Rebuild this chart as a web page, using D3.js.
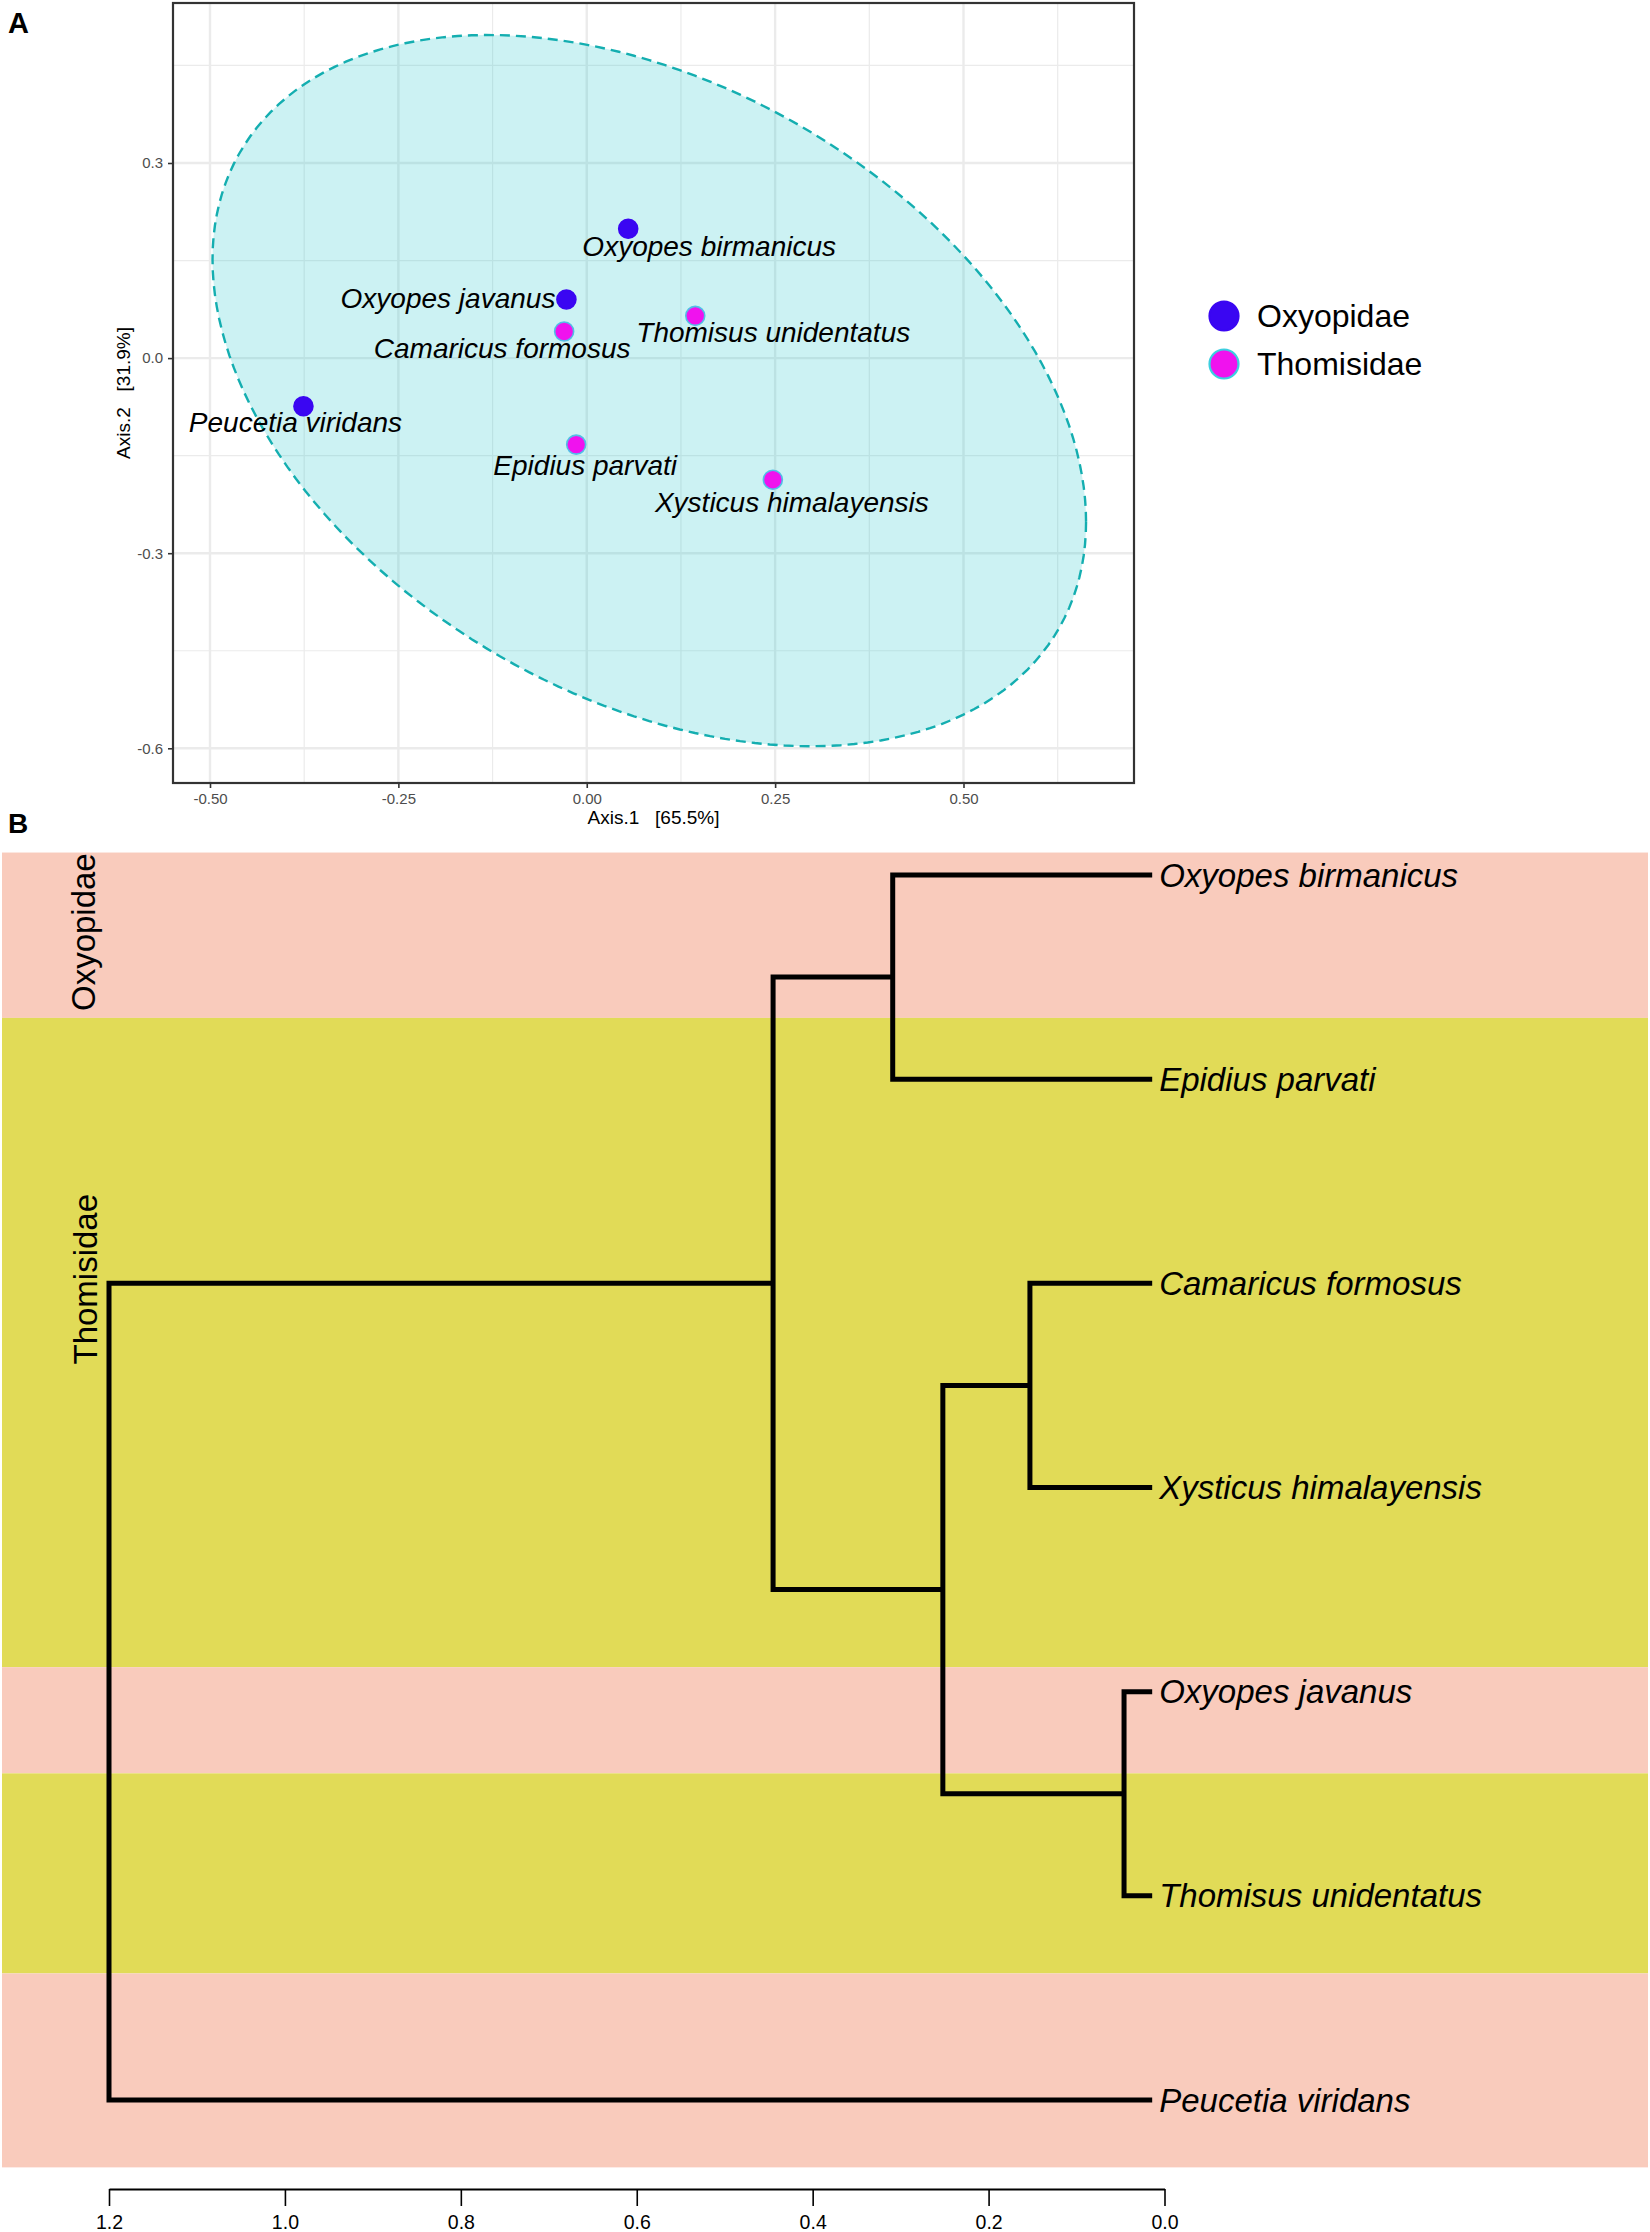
<!DOCTYPE html>
<html><head><meta charset="utf-8">
<script src="https://cdn.jsdelivr.net/npm/d3@7"></script>
<style>
html,body{margin:0;padding:0;background:#fff;}
svg{display:block;font-family:"Liberation Sans",Arial,Helvetica,sans-serif;}
</style></head><body>
<svg id="fig" width="1650" height="2232"></svg>
<script>
// ================= Panel A data (PCoA ordination) =================
const species = ["Oxyopes birmanicus","Oxyopes javanus","Camaricus formosus","Thomisus unidentatus","Peucetia viridans","Epidius parvati","Xysticus himalayensis"];
const family  = ["Oxyopidae","Oxyopidae","Thomisidae","Thomisidae","Oxyopidae","Thomisidae","Thomisidae"];
const axis1   = [0.055,-0.027,-0.030,0.144,-0.376,-0.014,0.247];
const axis2   = [0.199,0.090,0.041,0.065,-0.074,-0.133,-0.187];
const xTicksA = [-0.50,-0.25,0.00,0.25,0.50];
const yTicksA = [0.3,0.0,-0.3,-0.6];
const xMinorA = [-0.375,-0.125,0.125,0.375,0.625];
const yMinorA = [0.45,0.15,-0.15,-0.45];
const ellipseCenter = [0.083,-0.050];
const ellipseCov = [[0.336,-0.117],[-0.117,0.299]];
const families = ["Oxyopidae","Thomisidae"];
const axisTitlesA = ["Axis.1   [65.5%]","Axis.2   [31.9%]"];

// ================= Panel B data (dendrogram) =================
const leafLabels  = ["Oxyopes birmanicus","Epidius parvati","Camaricus formosus","Xysticus himalayensis","Oxyopes javanus","Thomisus unidentatus","Peucetia viridans"];
// hclust-style merges: negative = leaf (1-based), positive = earlier merge (1-based)
const mergeLeft   = [-5,-3,2,-1,4,5];
const mergeRight  = [-6,-4,1,-2,3,-7];
const mergeHeight = [0.046,0.153,0.252,0.309,0.445,1.2];
const leafHeight  = 0.014;
const bandEdges   = [-0.11,0.70,3.88,4.40,5.38,6.33];   // in leaf-position units
const bandFamily  = ["Oxyopidae","Thomisidae","Oxyopidae","Thomisidae","Oxyopidae"];
const familyLabelPos = [0.28,1.98];                       // leaf-position units
const treeTicks   = [1.2,1.0,0.8,0.6,0.4,0.2,0.0];

// ================= styles / layout =================
const famFill   = {Oxyopidae:"#3a06f2", Thomisidae:"#f012ee"};
const famStroke = {Oxyopidae:"#3a06f2", Thomisidae:"#52bfe6"};
const bandColor = {Oxyopidae:"#f9cbbc", Thomisidae:"#e1db57"};
const panelA = {left:173, right:1134, top:3, bottom:783};
// label offsets (px) relative to each point, in species order
const labelOffsetA = [
  {dx:81, dy:27, anchor:"middle"},
  {dx:-11, dy:8, anchor:"end"},
  {dx:-62, dy:27, anchor:"middle"},
  {dx:78, dy:26, anchor:"middle"},
  {dx:-8, dy:26, anchor:"middle"},
  {dx:9, dy:30, anchor:"middle"},
  {dx:19, dy:32, anchor:"middle"}
];

const svg = d3.select("#fig");

// ---------------- Panel A ----------------
const xA = d3.scaleLinear().domain([-0.5,0.5]).range([210,963.5]);
const yA = d3.scaleLinear().domain([-0.6,0.3]).range([748.3,163]);

svg.append("text").attr("x",8).attr("y",33).attr("font-size",29).attr("font-weight","bold").text("A");

svg.append("defs").append("clipPath").attr("id","clipA").append("rect")
  .attr("x",panelA.left).attr("y",panelA.top)
  .attr("width",panelA.right-panelA.left).attr("height",panelA.bottom-panelA.top);

const gA = svg.append("g").attr("clip-path","url(#clipA)");
gA.append("rect").attr("x",panelA.left).attr("y",panelA.top)
  .attr("width",panelA.right-panelA.left).attr("height",panelA.bottom-panelA.top).attr("fill","#fff");

// grid
gA.selectAll("line.vmin").data(xMinorA).join("line")
  .attr("x1",d=>xA(d)).attr("x2",d=>xA(d)).attr("y1",panelA.top).attr("y2",panelA.bottom)
  .attr("stroke","#ebebeb").attr("stroke-width",1.2);
gA.selectAll("line.hmin").data(yMinorA).join("line")
  .attr("y1",d=>yA(d)).attr("y2",d=>yA(d)).attr("x1",panelA.left).attr("x2",panelA.right)
  .attr("stroke","#ebebeb").attr("stroke-width",1.2);
gA.selectAll("line.vmaj").data(xTicksA).join("line")
  .attr("x1",d=>xA(d)).attr("x2",d=>xA(d)).attr("y1",panelA.top).attr("y2",panelA.bottom)
  .attr("stroke","#ebebeb").attr("stroke-width",2.4);
gA.selectAll("line.hmaj").data(yTicksA).join("line")
  .attr("y1",d=>yA(d)).attr("y2",d=>yA(d)).attr("x1",panelA.left).attr("x2",panelA.right)
  .attr("stroke","#ebebeb").attr("stroke-width",2.4);

// ellipse
const L11 = Math.sqrt(ellipseCov[0][0]);
const L21 = ellipseCov[1][0]/L11;
const L22 = Math.sqrt(ellipseCov[1][1]-L21*L21);
const ellPts = d3.range(0,360,2).map(deg=>{
  const t = deg*Math.PI/180;
  return [ellipseCenter[0]+L11*Math.cos(t), ellipseCenter[1]+L21*Math.cos(t)+L22*Math.sin(t)];
});
gA.append("path")
  .attr("d", d3.line().x(d=>xA(d[0])).y(d=>yA(d[1])).curve(d3.curveLinearClosed)(ellPts))
  .attr("fill","#00bfc4").attr("fill-opacity",0.2)
  .attr("stroke","#14aeb0").attr("stroke-width",2.4).attr("stroke-dasharray","10,6");

// points
const idx = d3.range(species.length);
gA.selectAll("circle.pt").data(idx).join("circle")
  .attr("cx",i=>xA(axis1[i])).attr("cy",i=>yA(axis2[i])).attr("r",9.5)
  .attr("fill",i=>famFill[family[i]]).attr("stroke",i=>famStroke[family[i]]).attr("stroke-width",1.6);

// labels
gA.selectAll("text.lab").data(idx).join("text")
  .attr("x",i=>xA(axis1[i])+labelOffsetA[i].dx)
  .attr("y",i=>yA(axis2[i])+labelOffsetA[i].dy)
  .attr("text-anchor",i=>labelOffsetA[i].anchor)
  .attr("font-size",28).attr("font-style","italic").attr("fill","#000")
  .text(i=>species[i]);

// axes
const axB = svg.append("g").attr("transform",`translate(0,${panelA.bottom})`)
  .call(d3.axisBottom(xA).tickValues(xTicksA).tickFormat(d=>d.toFixed(2)).tickSize(5).tickPadding(5));
const axL = svg.append("g").attr("transform",`translate(${panelA.left},0)`)
  .call(d3.axisLeft(yA).tickValues(yTicksA).tickFormat(d=>d.toFixed(1)).tickSize(5).tickPadding(5));
[axB,axL].forEach(g=>{
  g.select(".domain").remove();
  g.selectAll(".tick line").attr("stroke","#333").attr("stroke-width",1.6);
  g.selectAll(".tick text").attr("fill","#4d4d4d").attr("font-size",15)
    .attr("font-family",'"Liberation Sans",Arial,sans-serif');
});

// panel border
svg.append("rect").attr("x",panelA.left).attr("y",panelA.top)
  .attr("width",panelA.right-panelA.left).attr("height",panelA.bottom-panelA.top)
  .attr("fill","none").attr("stroke","#333").attr("stroke-width",2.2);

// axis titles
svg.append("text").attr("x",(panelA.left+panelA.right)/2).attr("y",824)
  .attr("text-anchor","middle").attr("font-size",19).style("white-space","pre").text(axisTitlesA[0]);
svg.append("text").attr("transform",`translate(130,${(panelA.top+panelA.bottom)/2}) rotate(-90)`)
  .attr("text-anchor","middle").attr("font-size",19).style("white-space","pre").text(axisTitlesA[1]);

// legend
const leg = svg.append("g");
families.forEach((f,i)=>{
  leg.append("circle").attr("cx",1224).attr("cy",316+i*48).attr("r",14.5)
    .attr("fill",famFill[f]).attr("stroke",f==="Thomisidae"?"#3ccfe0":famFill[f]).attr("stroke-width",2.2);
  leg.append("text").attr("x",1257).attr("y",327+i*48).attr("font-size",32).attr("fill","#000").text(f);
});

// ---------------- Panel B ----------------
svg.append("text").attr("x",8).attr("y",833).attr("font-size",28).attr("font-weight","bold").text("B");

const yT = d3.scaleLinear().domain([0,6]).range([875,2100]);
const xT = d3.scaleLinear().domain([1.2,0]).range([109,1164.5]);

// bands
svg.selectAll("rect.band").data(bandFamily).join("rect")
  .attr("x",2).attr("width",1646)
  .attr("y",(d,i)=>yT(bandEdges[i]))
  .attr("height",(d,i)=>yT(bandEdges[i+1])-yT(bandEdges[i]))
  .attr("fill",d=>bandColor[d]);

// family labels
families.forEach((f,i)=>{
  svg.append("text").attr("transform",`translate(${i===0?95:97},${yT(familyLabelPos[i])}) rotate(-90)`)
    .attr("text-anchor","middle").attr("font-size",33).attr("fill","#000").text(f);
});

// tree nodes
const nodes = [];
function nodeOf(id){
  if(id<0) return {h:leafHeight, y:yT(-id-1)};
  return nodes[id-1];
}
mergeHeight.forEach((h,k)=>{
  const a = nodeOf(mergeLeft[k]), b = nodeOf(mergeRight[k]);
  nodes.push({h:h, y:(a.y+b.y)/2, a:a, b:b});
});
svg.append("g").selectAll("path.br").data(nodes).join("path")
  .attr("d",n=>`M${xT(n.a.h)},${n.a.y}H${xT(n.h)}V${n.b.y}H${xT(n.b.h)}`)
  .attr("fill","none").attr("stroke","#000").attr("stroke-width",5).attr("stroke-linejoin","miter");

// leaf labels
svg.selectAll("text.leaf").data(leafLabels).join("text")
  .attr("x",xT(leafHeight)+7).attr("y",(d,i)=>yT(i)).attr("dy","0.35em")
  .attr("font-size",33).attr("font-style","italic").attr("fill","#000").text(d=>d);

// tree axis
const axT = svg.append("g").attr("transform","translate(0,2189)")
  .call(d3.axisBottom(xT).tickValues(treeTicks).tickFormat(d=>d.toFixed(1)).tickSize(17).tickSizeOuter(0).tickPadding(9));
axT.select(".domain").attr("stroke","#000").attr("stroke-width",2.2);
axT.selectAll(".tick line").attr("stroke","#000").attr("stroke-width",1.6);
axT.selectAll(".tick text").attr("fill","#000").attr("font-size",19.5)
  .attr("font-family",'"Liberation Sans",Arial,sans-serif');
</script>
</body></html>
